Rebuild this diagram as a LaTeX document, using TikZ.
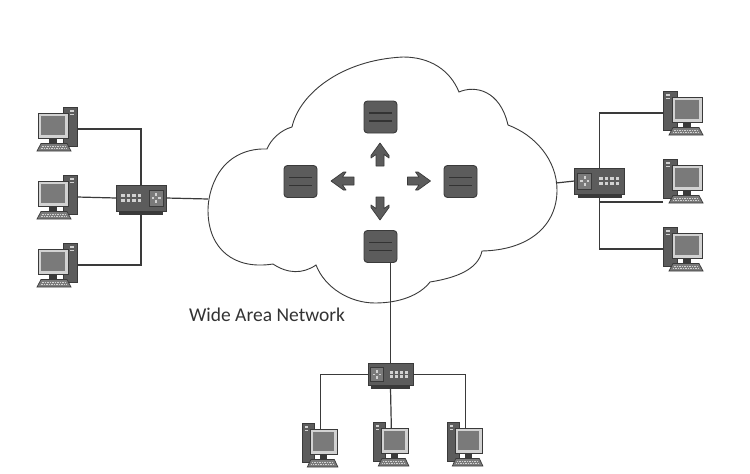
\documentclass[tikz,border=0pt]{standalone}
\usepackage{fontspec}
\setmainfont{Carlito}
\definecolor{dk}{HTML}{3A3A3A}
\definecolor{md}{HTML}{5C5C5C}
\definecolor{sc}{HTML}{7A7A7A}
\definecolor{lt}{HTML}{D2D2D2}
\tikzset{
  x=1pt,y=-1pt,
  conn/.style={draw=dk,line width=1.2pt},
  cloudline/.style={draw=dk,line width=0.9pt,fill=white,line join=miter},
  router/.style={draw=dk,line width=0.9pt,fill=md,rounded corners=3.5pt,minimum width=33pt,minimum height=32pt,inner sep=0pt,
    path picture={
      \draw[black!80,line width=1.3pt] (path picture bounding box.center)+(-11.5,-4)--+(11.5,-4);
      \draw[black!80,line width=1.3pt] (path picture bounding box.center)+(-11.5,4)--+(11.5,4);
    }},
  flow/.style={draw=dk,line width=0.7pt,fill=md,line join=round},
  pc/.pic={
    \fill[md,draw=dk,line width=.6pt] (25,0) rectangle (39,39);
    \fill[lt] (32,3) rectangle (36,5);
    \fill[lt] (32,6.5) rectangle (36,8);
    \fill[dk] (11,31) rectangle (19,37);
    \filldraw[fill=sc,draw=dk,line width=.7pt] (3,36.5) -- (29,36.5) -- (33,44) -- (-1,44) -- cycle;
    \draw[lt,line width=.8pt,dash pattern=on 1.5pt off 1pt] (4,39) -- (28,39);
    \draw[lt,line width=.8pt,dash pattern=on 1.5pt off 1pt] (3,41.5) -- (29,41.5);
    \filldraw[fill=lt,draw=dk,line width=1pt] (0,6) rectangle (30,31);
    \fill[sc] (3,9) rectangle (27,28);
    \coordinate (-t) at (39,22);
    \coordinate (-top) at (18.5,6);
    \coordinate (-low) at (39,43);
  },
  switchbox/.pic={
    \fill[dk] (-22,12) rectangle (22,17);
    \filldraw[fill=md,draw=dk,line width=.8pt] (-25,-13) rectangle (25,13);
    \filldraw[fill=sc,draw=dk,line width=.8pt] (8,-8) rectangle (22,8);
    \fill[lt] (14,-5) rectangle (16,-2);
    \fill[lt] (14,2) rectangle (16,5);
    \fill[lt] (10.5,-1) rectangle (13,1);
    \fill[lt] (17,-1) rectangle (19.5,1);
    \foreach \xx in {-18,-12.5,-7,-1.5}{
      \fill[lt] (\xx-1.7,-4) rectangle (\xx+1.7,-1);
      \fill[lt] (\xx-1.7,1) rectangle (\xx+1.7,4);
    }
    \coordinate (-n) at (0,-13);
    \coordinate (-s) at (0,16);
    \coordinate (-e) at (25,0);
    \coordinate (-w) at (-25,0);
  },
  uparrow/.pic={
    \path[flow] (0,-11.5) -- (9,1) -- (9,3.5) -- (4,0) -- (4,11.5) -- (-4,11.5) -- (-4,0) -- (-9,3.5) -- (-9,1) -- cycle;
  },
}
\begin{document}
\begin{tikzpicture}
\useasboundingbox[fill=white] (0,0) rectangle (750,474);

% computers
\pic (L1) at (38,107) {pc};
\pic (L2) at (38,175) {pc};
\pic (L3) at (38,243) {pc};
\pic[xscale=-1] (R1) at (702,91) {pc};
\pic[xscale=-1] (R2) at (702,159) {pc};
\pic[xscale=-1] (R3) at (702,227) {pc};
\pic[xscale=-.9] (B1) at (337,423) {pc};
\pic[xscale=-.9] (B2) at (408,422) {pc};
\pic[xscale=-.9] (B3) at (482,422) {pc};

% switches
\pic (swL) at (141,198) {switchbox};
\pic[xscale=-1] (swR) at (599.5,181) {switchbox};
\pic[xscale=-.9,yscale=.85] (swB) at (390.5,374.5) {switchbox};

% cloud
\coordinate (cloudW) at (208,199);
\coordinate (cloudE) at (556,183);
\path[cloudline] (215,180)
  .. controls (224,160) and (243,148) .. (267,149)
  .. controls (271,139) and (281,130) .. (292,127)
  .. controls (299,95) and (340,60) .. (403,57)
  .. controls (430,57) and (450,70) .. (459,92)
  .. controls (475,85) and (500,90) .. (508,125)
  .. controls (535,135) and (557,160) .. (557,190)
  .. controls (557,225) and (530,250) .. (482,251)
  .. controls (478,270) and (455,278) .. (430,282)
  .. controls (420,295) and (400,303) .. (375,303)
  .. controls (350,303) and (325,288) .. (316,265)
  .. controls (303,274) and (288,274) .. (273,264)
  .. controls (235,270) and (208,250) .. (208,210)
  .. controls (208,200) and (211,188) .. (215,180) -- cycle;

% routers
\node[router] (rT) at (380.5,117) {};
\node[router] (rL) at (300.5,181.5) {};
\node[router] (rR) at (460.5,181.5) {};
\node[router] (rB) at (380.5,246.5) {};

% flow arrows
\pic at (380,154.5) {uparrow};
\pic[rotate=90] at (342.5,181) {uparrow};
\pic[rotate=-90] at (419,181) {uparrow};
\pic[rotate=180] at (380,208.5) {uparrow};

% label
\node[inner sep=0pt,text=black!80,font=\fontsize{19.5}{21}\selectfont] (wan) at (267,315) {Wide Area Network};

% connectors
\draw[conn] (L1-t) -| (swL-n);
\draw[conn] (L2-t) -- (swL-w);
\draw[conn] (L3-t) -| (swL-s);
\draw[conn] (swL-e) -- (cloudW);
\draw[conn] (R1-t) -| (swR-n);
\draw[conn] (R2-low) -| (swR-s);
\draw[conn] (R3-t) -| (swR-s);
\draw[conn] (swR-e) -- (cloudE);
\draw[conn] (swB-e) -| (B1-top);
\draw[conn] (swB-s) -- (B2-top);
\draw[conn] (swB-w) -| (B3-top);
\draw[conn] (swB-n) -- (swB-n |- rB.south);
\end{tikzpicture}
\end{document}
